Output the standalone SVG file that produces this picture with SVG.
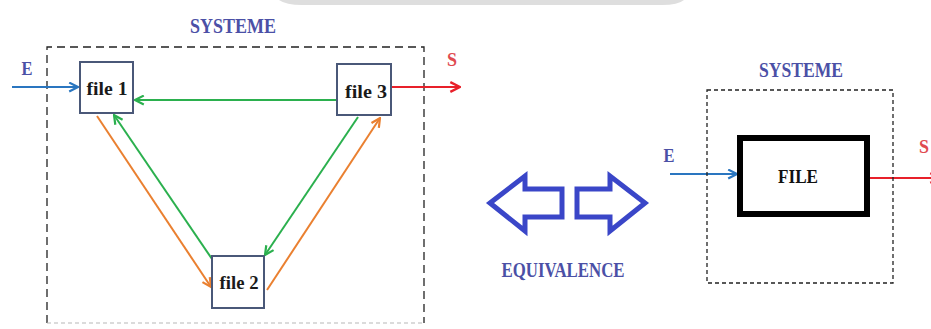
<svg xmlns="http://www.w3.org/2000/svg" width="931" height="329" viewBox="0 0 931 329">
<style>
  .title { font-family: "Liberation Serif", "Times New Roman", serif; font-weight: bold; fill: #4b50a6; }
  .lbl { font-family: "Liberation Serif", "Times New Roman", serif; font-weight: bold; fill: #1a1a1a; font-size: 19px; }
  .node { fill: #ffffff; stroke: #4a5878; stroke-width: 2; }
  .sys { fill: none; stroke: #222; stroke-width: 1.3; }
  .green { stroke: #2bb04e; stroke-width: 2; fill: none; marker-end: url(#hGreen); }
  .orange { stroke: #ea8030; stroke-width: 2; fill: none; marker-end: url(#hOrange); }
  .blue { stroke: #2a76c0; stroke-width: 2; fill: none; marker-end: url(#hBlue); }
  .red { stroke: #e8202a; stroke-width: 2.2; fill: none; marker-end: url(#hRed); }
  .equiv { fill: none; stroke: #3a46c8; stroke-width: 5; stroke-linejoin: miter; }
</style>
<defs>
  <marker id="hGreen" viewBox="0 0 10 10" refX="9" refY="5" markerWidth="5.5" markerHeight="5.5" orient="auto" markerUnits="strokeWidth">
    <path d="M1,1 L9,5 L1,9" fill="none" stroke="#2bb04e" stroke-width="2"/>
  </marker>
  <marker id="hOrange" viewBox="0 0 10 10" refX="9" refY="5" markerWidth="5.5" markerHeight="5.5" orient="auto" markerUnits="strokeWidth">
    <path d="M1,1 L9,5 L1,9" fill="none" stroke="#ea8030" stroke-width="2"/>
  </marker>
  <marker id="hBlue" viewBox="0 0 10 10" refX="9" refY="5" markerWidth="5.5" markerHeight="5.5" orient="auto" markerUnits="strokeWidth">
    <path d="M1,1 L9,5 L1,9" fill="none" stroke="#2a76c0" stroke-width="2"/>
  </marker>
  <marker id="hRed" viewBox="0 0 10 10" refX="9" refY="5" markerWidth="5.5" markerHeight="5.5" orient="auto" markerUnits="strokeWidth">
    <path d="M1,1 L9,5 L1,9" fill="none" stroke="#e8202a" stroke-width="2"/>
  </marker>
</defs>
<rect width="931" height="329" fill="#ffffff"/>
<path d="M279,0 Q286,5 302,5 L662,5 Q678,5 684,0 Z" fill="#dedede"/>

<g id="system-left">
  <path class="sys" d="M47,323 L47,47 L424,47 L424,323" stroke-dasharray="8 5"/>
  <path d="M47,323 L424,323" fill="none" stroke="#b8b8b8" stroke-width="1.2" stroke-dasharray="4 3"/>
  <text class="title" x="233" y="33" font-size="20" text-anchor="middle" textLength="86" lengthAdjust="spacingAndGlyphs">SYSTEME</text>
</g>

<g id="connectors">
  <line class="blue" x1="12" y1="87" x2="78" y2="87"/>
  <line class="red" x1="392" y1="87" x2="460" y2="87"/>
  <line class="green" x1="336" y1="100" x2="135" y2="100"/>
  <line class="orange" x1="97" y1="116" x2="211" y2="287"/>
  <line class="green" x1="212" y1="259" x2="114" y2="115"/>
  <line class="green" x1="358" y1="117" x2="265" y2="255"/>
  <line class="orange" x1="267" y1="290" x2="380" y2="118"/>
  <line class="blue" x1="670" y1="174" x2="737" y2="174"/>
  <line class="red" x1="868" y1="178" x2="940" y2="178"/>
</g>

<g id="file1">
  <rect class="node" x="80" y="62" width="53" height="51"/>
  <text class="lbl" x="107" y="95" text-anchor="middle" textLength="41" lengthAdjust="spacingAndGlyphs">file 1</text>
</g>
<g id="file3">
  <rect class="node" x="337" y="64" width="54" height="51"/>
  <text class="lbl" x="366" y="98" text-anchor="middle" textLength="42" lengthAdjust="spacingAndGlyphs">file 3</text>
</g>
<g id="file2">
  <rect class="node" x="212" y="256" width="52" height="52"/>
  <text class="lbl" x="239" y="289" text-anchor="middle" textLength="39" lengthAdjust="spacingAndGlyphs">file 2</text>
</g>

<g id="labels-left">
  <text class="title" x="27" y="75" font-size="19" text-anchor="middle" textLength="11" lengthAdjust="spacingAndGlyphs">E</text>
  <text class="title" x="452" y="66" font-size="19" text-anchor="middle" textLength="10" lengthAdjust="spacingAndGlyphs" style="fill:#e04a50">S</text>
</g>

<g id="equivalence">
  <polygon class="equiv" points="490,203 525,176 525,189 562,189 562,217 525,217 525,231"/>
  <polygon class="equiv" points="645,203 610,176 610,189 577,189 577,217 610,217 610,231"/>
  <text class="title" x="563" y="277" font-size="21" text-anchor="middle" textLength="123" lengthAdjust="spacingAndGlyphs">EQUIVALENCE</text>
</g>

<g id="system-right">
  <rect class="sys" x="707" y="90" width="186" height="193" stroke-dasharray="4 3" stroke-width="1.2"/>
  <text class="title" x="801" y="77" font-size="20" text-anchor="middle" textLength="84" lengthAdjust="spacingAndGlyphs">SYSTEME</text>
</g>

<g id="FILE">
  <rect x="740" y="138" width="127" height="76" fill="#ffffff" stroke="#000" stroke-width="6"/>
  <text x="798" y="183" text-anchor="middle" font-family="Liberation Serif, Times New Roman, serif" font-weight="bold" font-size="18" fill="#111" textLength="40" lengthAdjust="spacingAndGlyphs">FILE</text>
</g>

<g id="labels-right">
  <text class="title" x="669" y="162" font-size="19" text-anchor="middle" textLength="11" lengthAdjust="spacingAndGlyphs">E</text>
  <text class="title" x="919" y="153" font-size="19" textLength="10" lengthAdjust="spacingAndGlyphs" style="fill:#e04a50">S</text>
</g>
</svg>
